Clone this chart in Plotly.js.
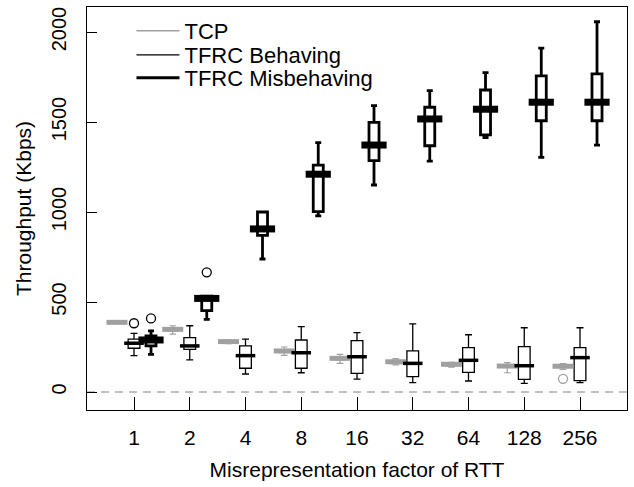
<!DOCTYPE html>
<html>
<head>
<meta charset="utf-8">
<script src="https://cdn.plot.ly/plotly-3.0.1.min.js"></script>
<style>html,body{margin:0;padding:0;background:#fff;}#chart{width:634px;height:487px;}</style>
</head>
<body>
<div id="chart"></div>
<script>
// Categories (misrepresentation factor of RTT)
const categories = ["1", "2", "4", "8", "16", "32", "64", "128", "256"];

// TCP
const tcpLow    = [380, 322, 268, 203, 159, 150, 138, 107, 125];
const tcpQ1     = [383, 338, 274, 218, 178, 158, 145, 138, 135];
const tcpMedian = [387, 348, 280, 228, 187, 168, 154, 144, 143];
const tcpQ3     = [391, 356, 287, 236, 195, 176, 160, 150, 150];
const tcpHigh   = [394, 368, 290, 250, 209, 185, 165, 163, 158];
const tcpOutlierGroup = [8];
const tcpOutlierValue = [73];

// TFRC Behaving
const behLow    = [202, 178, 100, 107, 72, 52, 61, 48, 52];
const behQ1     = [243, 237, 132, 132, 104, 85, 109, 70, 63];
const behMedian = [271, 256, 202, 218, 196, 159, 176, 146, 191];
const behQ3     = [294, 302, 256, 289, 285, 228, 246, 252, 246];
const behHigh   = [326, 368, 294, 363, 330, 378, 318, 357, 357];
const behOutlierGroup = [0];
const behOutlierValue = [382];

// TFRC Misbehaving
const misLow    = [209, 404, 739, 978, 1150, 1283, 1413, 1304, 1372];
const misQ1     = [256, 452, 870, 1002, 1285, 1368, 1428, 1507, 1507];
const misMedian = [289, 520, 906, 1210, 1372, 1517, 1571, 1610, 1610];
const misQ3     = [311, 533, 1000, 1261, 1498, 1582, 1678, 1756, 1767];
const misHigh   = [340, 533, 1000, 1385, 1591, 1674, 1774, 1910, 2057];
const misOutlierGroup = [0, 1];
const misOutlierValue = [409, 665];

const yTicks = [0, 500, 1000, 1500, 2000];
const seriesNames = ["TCP", "TFRC Behaving", "TFRC Misbehaving"];

// ---- styling / layout ----
const FONT = "Liberation Sans, Arial, Helvetica, sans-serif";
const GRAY = "#a0a0a0";
const OFF = 0.305;
const idx = categories.map((c, i) => i);

function boxTrace(offset, lo, q1, med, q3, hi, color, lw, width) {
  return {
    type: "box",
    x: idx.map(i => i + offset),
    lowerfence: lo, q1: q1, median: med, q3: q3, upperfence: hi,
    width: width,
    whiskerwidth: 0.6,
    fillcolor: "#ffffff",
    line: {color: color, width: lw},
    boxpoints: false,
    showlegend: false,
    hoverinfo: "skip"
  };
}
function medTrace(offset, med, color, size, lw) {
  return {
    type: "scatter", mode: "markers",
    x: idx.map(i => i + offset), y: med,
    marker: {symbol: "line-ew", size: size, line: {color: color, width: lw}},
    showlegend: false, hoverinfo: "skip"
  };
}
function outTrace(offset, groups, vals, color) {
  return {
    type: "scatter", mode: "markers",
    x: groups.map(i => i + offset), y: vals,
    marker: {symbol: "circle-open", size: 9, color: color, line: {color: color, width: 1.3}},
    showlegend: false, hoverinfo: "skip"
  };
}
function legTrace(name, color, w, leg) {
  return {type: "scatter", mode: "lines", x: [null], y: [null], name: name,
          legend: leg, line: {color: color, width: w}, hoverinfo: "skip"};
}

const data = [
  boxTrace(-OFF, tcpLow, tcpQ1, tcpMedian, tcpQ3, tcpHigh, GRAY, 1.2, 0.2),
  boxTrace(0, behLow, behQ1, behMedian, behQ3, behHigh, "#000000", 1.3, 0.21),
  boxTrace(OFF, misLow, misQ1, misMedian, misQ3, misHigh, "#000000", 2.8, 0.18),
  medTrace(-OFF, tcpMedian, GRAY, 15, 5),
  medTrace(0, behMedian, "#000000", 14, 3.5),
  medTrace(OFF, misMedian, "#000000", 18, 7),
  outTrace(-OFF, tcpOutlierGroup, tcpOutlierValue, GRAY),
  outTrace(0, behOutlierGroup, behOutlierValue, "#000000"),
  outTrace(OFF, misOutlierGroup, misOutlierValue, "#000000"),
  legTrace(seriesNames[0], GRAY, 1.5, "legend"),
  legTrace(seriesNames[1], "#000000", 1.3, "legend2"),
  legTrace(seriesNames[2], "#000000", 3, "legend3")
];

function legendAt(yPaper) {
  return {x: 0.0824, y: yPaper, xanchor: "left", yanchor: "middle",
          bgcolor: "rgba(0,0,0,0)", borderwidth: 0, itemwidth: 43,
          font: {family: FONT, size: 22, color: "#000"}};
}

const layout = {
  width: 634, height: 487,
  margin: {l: 87, r: 7, t: 7, b: 77},
  paper_bgcolor: "#ffffff", plot_bgcolor: "#ffffff",
  font: {family: FONT, size: 21, color: "#000000"},
  boxmode: "overlay",
  showlegend: true,
  legend: legendAt(0.9404),
  legend2: legendAt(0.8809),
  legend3: legendAt(0.8238),
  xaxis: {
    range: [-0.843, 8.843],
    tickmode: "array", tickvals: idx, ticktext: categories,
    ticks: "inside", ticklen: 13, tickwidth: 1, tickcolor: "#000",
    showline: true, linecolor: "#000", linewidth: 1, mirror: true,
    showgrid: false, zeroline: false,
    ticklabelstandoff: 9,
    tickfont: {size: 21},
    title: {text: "Misrepresentation factor of RTT", font: {size: 21}, standoff: 14}
  },
  yaxis: {
    range: [-100, 2139],
    tickmode: "array", tickvals: yTicks, ticktext: yTicks.map(String),
    ticks: "inside", ticklen: 10, tickwidth: 1, tickcolor: "#000",
    tickangle: -90,
    showline: true, linecolor: "#000", linewidth: 1, mirror: true,
    showgrid: false, zeroline: false,
    ticklabelstandoff: 12,
    tickfont: {size: 20},
    title: {text: "Throughput (Kbps)", font: {size: 21}, standoff: 10}
  },
  shapes: [{
    type: "line", xref: "paper", x0: 0, x1: 1, yref: "y", y0: 0, y1: 0,
    line: {color: "#aaaaaa", width: 1.3, dash: "8px,6px"}, layer: "below"
  }]
};

Plotly.newPlot("chart", data, layout, {staticPlot: true, displayModeBar: false});
</script>
</body>
</html>
